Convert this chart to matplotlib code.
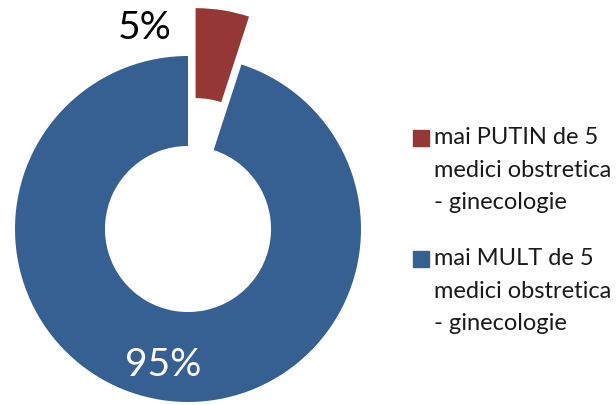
import matplotlib.pyplot as plt
from matplotlib.patches import Rectangle

labels = ["mai PUTIN de 5\nmedici obstretica\n- ginecologie",
          "mai MULT de 5\nmedici obstretica\n- ginecologie"]
values = [5, 95]
colors = ["#953735", "#376092"]
explode = [0.28, 0]

W, H = 616, 406
cx, cy, r = 188, 230, 173  # donut centre and radius in pixels

plt.rcParams['font.family'] = ['Lato', 'DejaVu Sans']

fig = plt.figure(figsize=(W / 100, H / 100), dpi=100)
ax = fig.add_axes([0, 0, 1, 1])
ax.pie(values, colors=colors, explode=explode, startangle=90, counterclock=False,
       radius=1, wedgeprops=dict(width=0.52, edgecolor="none"))
ax.set_xlim(-cx / r, (W - cx) / r)
ax.set_ylim(-(H - cy) / r, cy / r)
ax.axis("off")

# percentage labels
ax.text(-0.25, 1.17, f"{values[0]}%", ha="center", va="center", fontsize=28, color="black")
ax.text(-0.145, -0.78, f"{values[1]}%", ha="center", va="center", fontsize=28, color="white")

# legend drawn by hand so the line spacing matches
for lab, col, ytop in zip(labels, colors, [131, 252]):
    fig.patches.append(Rectangle((413 / W, 1 - (ytop + 16) / H), 16 / W, 16 / H,
                                 transform=fig.transFigure, color=col))
    fig.text(434 / W, 1 - (ytop - 4) / H, lab, ha="left", va="top",
             fontsize=17, linespacing=1.68, color="#1a1a1a")

fig.savefig("out.png", dpi=100)
